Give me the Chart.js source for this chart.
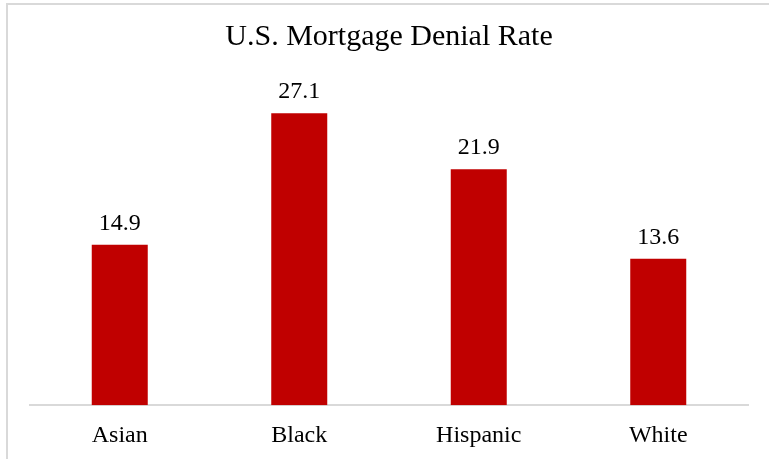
<!DOCTYPE html>
<html lang="en">
<head>
  <meta charset="UTF-8">
  <title>U.S. Mortgage Denial Rate</title>
  <script src="https://cdn.jsdelivr.net/npm/chart.js"></script>
  <style>
    html, body { margin: 0; padding: 0; background: #fff; overflow: hidden; }
    .frame { position: absolute; left: 6px; top: 3px; width: 800px; height: 500px;
             border-top: 2px solid #d9d9d9; border-left: 2px solid #d9d9d9; }
    .wrap { position: absolute; left: 0; top: 0; width: 769px; height: 459px; }
  </style>
</head>
<body>
  <div class="frame"></div>
  <div class="wrap"><canvas id="denialChart" width="769" height="459"></canvas></div>

  <script>
    const groups = ['Asian', 'Black', 'Hispanic', 'White'];
    const denialRates = [14.9, 27.1, 21.9, 13.6];

    const serif = '"Liberation Serif", "Times New Roman", serif';

    // prints each bar's value just above it
    const valueLabels = {
      id: 'valueLabels',
      afterDatasetsDraw(chart) {
        const ctx = chart.ctx;
        const meta = chart.getDatasetMeta(0);
        ctx.save();
        ctx.font = '24px ' + serif;
        ctx.fillStyle = '#000';
        ctx.textAlign = 'center';
        ctx.textBaseline = 'alphabetic';
        meta.data.forEach((bar, i) => {
          ctx.fillText(denialRates[i].toFixed(1), bar.x, bar.y - 15);
        });
        ctx.restore();
      }
    };

    new Chart(document.getElementById('denialChart'), {
      type: 'bar',
      data: {
        labels: groups,
        datasets: [{
          data: denialRates,
          backgroundColor: '#c00000',
          borderWidth: 0,
          barPercentage: 0.312,
          categoryPercentage: 1
        }]
      },
      options: {
        responsive: false,
        animation: false,
        layout: { padding: { left: 30, right: 21, top: 0, bottom: 1 } },
        plugins: {
          legend: { display: false },
          tooltip: { enabled: false },
          title: {
            display: true,
            text: 'U.S. Mortgage Denial Rate',
            color: '#000',
            font: { family: serif, size: 30, weight: 'normal' },
            padding: { top: 19, bottom: 27 }
          }
        },
        scales: {
          x: {
            grid: { display: false },
            border: { display: true, color: '#d9d9d9', width: 2 },
            ticks: { color: '#000', font: { family: serif, size: 24 }, padding: 8 }
          },
          y: {
            display: false,
            min: 0,
            max: 30
          }
        }
      },
      plugins: [valueLabels]
    });
  </script>
</body>
</html>
